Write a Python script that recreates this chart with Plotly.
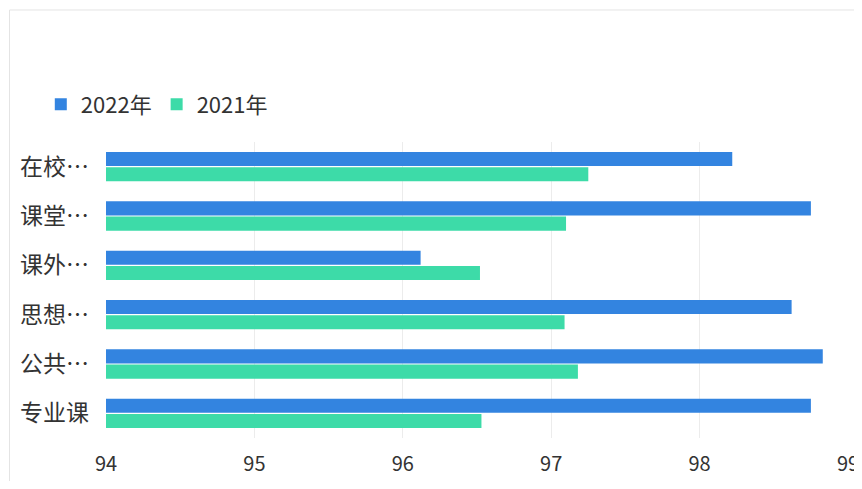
"""
Grouped horizontal bar chart: 2022 vs 2021 scores by course category.
"""

import plotly.graph_objects as go

# data
categories = ["在校…", "课堂…", "课外…", "思想…", "公共…", "专业课"]
series_names = ["2022年", "2021年"]
values_2022 = [98.22, 98.75, 96.12, 98.62, 98.83, 98.75]
values_2021 = [97.25, 97.10, 96.52, 97.09, 97.18, 96.53]
x_ticks = [94, 95, 96, 97, 98, 99]

BLUE = "#3384e0"
GREEN = "#3ddba8"
FONT = "Noto Sans CJK SC, Microsoft YaHei, sans-serif"

fig = go.Figure()

for name, vals, color in zip(series_names, [values_2022, values_2021], [BLUE, GREEN]):
    fig.add_trace(
        go.Bar(
            y=categories,
            x=vals,
            name=name,
            orientation="h",
            marker=dict(color=color, line=dict(width=0)),
        )
    )

# the page body adds an 8px margin, so the figure is sized to fit inside it
fig.update_layout(
    width=854,
    height=473,
    paper_bgcolor="white",
    plot_bgcolor="white",
    barmode="group",
    bargap=0.38,
    bargroupgap=0.08,
    margin=dict(l=98, r=14, t=134, b=43),
    font=dict(family=FONT, size=22, color="#333333"),
    legend=dict(
        orientation="h",
        xref="container",
        yref="container",
        x=0.0384,
        y=0.796,
        xanchor="left",
        yanchor="middle",
        font=dict(size=22, color="#333333"),
        itemwidth=30,
        tracegroupgap=0,
    ),
    showlegend=True,
)

fig.update_xaxes(
    range=[x_ticks[0], x_ticks[-1]],
    tickvals=x_ticks,
    showgrid=True,
    gridcolor="#ececec",
    gridwidth=1,
    zeroline=False,
    showline=False,
    ticks="",
    automargin=False,
    ticklabeloverflow="allow",
    ticklabelstandoff=12,
    tickfont=dict(size=20, color="#333333"),
)

fig.update_yaxes(
    autorange="reversed",
    showgrid=False,
    showline=False,
    ticks="",
    automargin=False,
    ticklabelstandoff=16,
    tickfont=dict(size=23, color="#333333"),
)

# faint card border along the top and left edges
fig.add_shape(
    type="rect",
    xref="paper",
    yref="paper",
    x0=-0.13,
    x1=1.2,
    y0=-0.6,
    y1=1.446,
    line=dict(color="#e4e4e4", width=1),
    layer="below",
)

fig.write_html("out.html")
